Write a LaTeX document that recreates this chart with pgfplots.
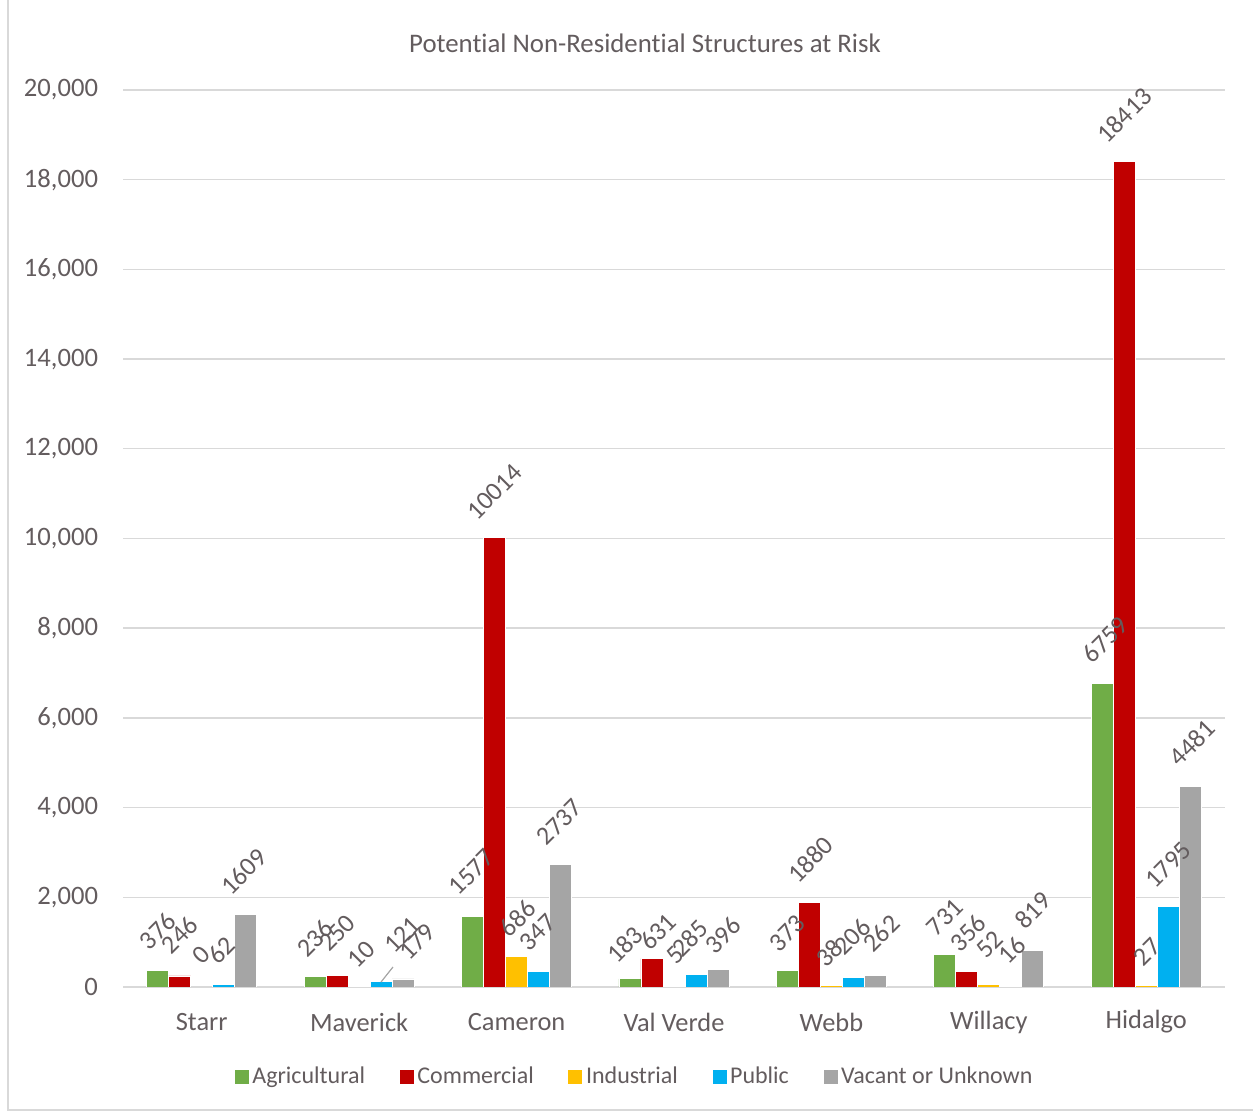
\documentclass[border=0pt]{standalone}
\usepackage{pgfplots}
\usepackage{pgfplotstable}
\pgfplotsset{compat=1.18}
\usepackage{fontspec}
\setmainfont{Carlito}[Ligatures=NoCommon]

\definecolor{txt}{RGB}{99,92,94}
\definecolor{gridc}{RGB}{217,217,217}
\definecolor{agri}{RGB}{112,173,71}
\definecolor{comm}{RGB}{192,0,0}
\definecolor{indu}{RGB}{255,192,0}
\definecolor{publ}{RGB}{0,176,240}
\definecolor{vaca}{RGB}{165,165,165}

\newcommand{\fs}[1]{\fontsize{#1}{#1}\selectfont}

% one table per structure type: county index, count, label offsets (bp)
\pgfplotstableread{
x y dx dy
0 376 0 19.5
1 236 0 19
2 1577 -0.5 22
3 183 -2.5 17
4 373 0 18.5
5 731 0 18.5
6 6759 1.5 22
}\tagri
\pgfplotstableread{
x y dx dy
0 246 0 20.5
1 250 0 21.5
2 10014 0 23
3 631 3 13.5
4 1880 0.5 21.5
5 356 0.5 19
6 18413 0 23
}\tcomm
\pgfplotstableread{
x y dx dy
0 0 0 16
1 10 1 16
2 686 0.5 19
3 5 0.5 16
4 38 -1 16
5 52 0.5 20
6 27 0.5 17
}\tindu
\pgfplotstableread{
x y dx dy
0 62 -1 17
1 121 10.5 23.3
2 347 -0.5 19.5
3 285 -3 18
4 206 -0.5 20.5
5 16 0.5 18
6 1795 0 20.75
}\tpubl
\pgfplotstableread{
x y dx dy
0 1609 -1 21.5
1 179 7 18.5
2 2737 -0.5 21
3 396 2.5 17
4 262 3 21
5 819 0 20
6 4481 1 21.5
}\tvaca

\pgfplotsset{
  labelled bars/.style={
    fill=#1, draw=white, line width=0.4bp,
    nodes near coords={\pgfmathprintnumber[fixed,precision=0,1000 sep={}]{\pgfplotspointmeta}},
    visualization depends on={\thisrow{dx}\as\ldx},
    visualization depends on={\thisrow{dy}\as\ldy},
    every node near coord/.append style={font=\fs{13bp}, text=txt, anchor=center,
      xshift=\ldx*1bp, yshift=\ldy*1bp, rotate=45},
  },
}

\begin{document}
\begin{tikzpicture}
% canvas and outer frame
\path[use as bounding box] (0,0) rectangle (626.5bp,556bp);
\draw[gridc, line width=0.8bp] (4bp,556bp) -- (4bp,1bp) -- (626.5bp,1bp);

\begin{axis}[
  scale only axis,
  width=551bp, height=448.5bp,
  at={(61.5bp,62.5bp)}, anchor=south west,
  xmin=-0.5, xmax=6.5,
  ymin=0, ymax=20000,
  ytick={0,2000,...,20000},
  scaled y ticks=false,
  xtick={0,...,6},
  xticklabels={Starr,Maverick,Cameron,Val Verde,Webb,Willacy,Hidalgo},
  major tick length=0pt,
  axis line style={draw=none},
  ymajorgrids,
  grid style={gridc, line width=0.7bp},
  /pgf/number format/.cd, 1000 sep={,}, assume math mode=true,
  /pgfplots/.cd,
  yticklabel style={font=\fs{13.3bp}, text=txt, anchor=east, xshift=-9bp},
  xticklabel style={font=\fs{13.2bp}, text=txt, anchor=center, yshift=-17.5bp},
  title={Potential Non-Residential Structures at Risk},
  title style={font=\fs{13.4bp}, text=txt, at={(0.4737,1)}, anchor=center, yshift=17.5bp},
  ybar=0pt,
  bar width=11bp,
  legend columns=5,
  legend style={draw=none, fill=none, at={(0.465,-0.1003)}, anchor=center,
    font=\fs{12bp}, text=txt,
    /tikz/every even column/.append style={column sep=15.5bp},
    nodes={inner sep=1.8bp}},
  legend image code/.code={\fill[#1, draw=none] (0bp,-3.5bp) rectangle (7bp,3.5bp);},
]
\addplot[labelled bars=agri] table[x=x,y=y] {\tagri};
\addplot[labelled bars=comm] table[x=x,y=y] {\tcomm};
\addplot[labelled bars=indu] table[x=x,y=y] {\tindu};
\addplot[labelled bars=publ] table[x=x,y=y] {\tpubl};
\addplot[labelled bars=vaca] table[x=x,y=y] {\tvaca};
\legend{Agricultural,Commercial,Industrial,Public,Vacant or Unknown}
% leader line of the moved Maverick "Public" label
\draw[vaca, line width=0.6bp] (axis cs:1.139,111) -- (axis cs:1.215,446);
\end{axis}
\end{tikzpicture}
\end{document}
